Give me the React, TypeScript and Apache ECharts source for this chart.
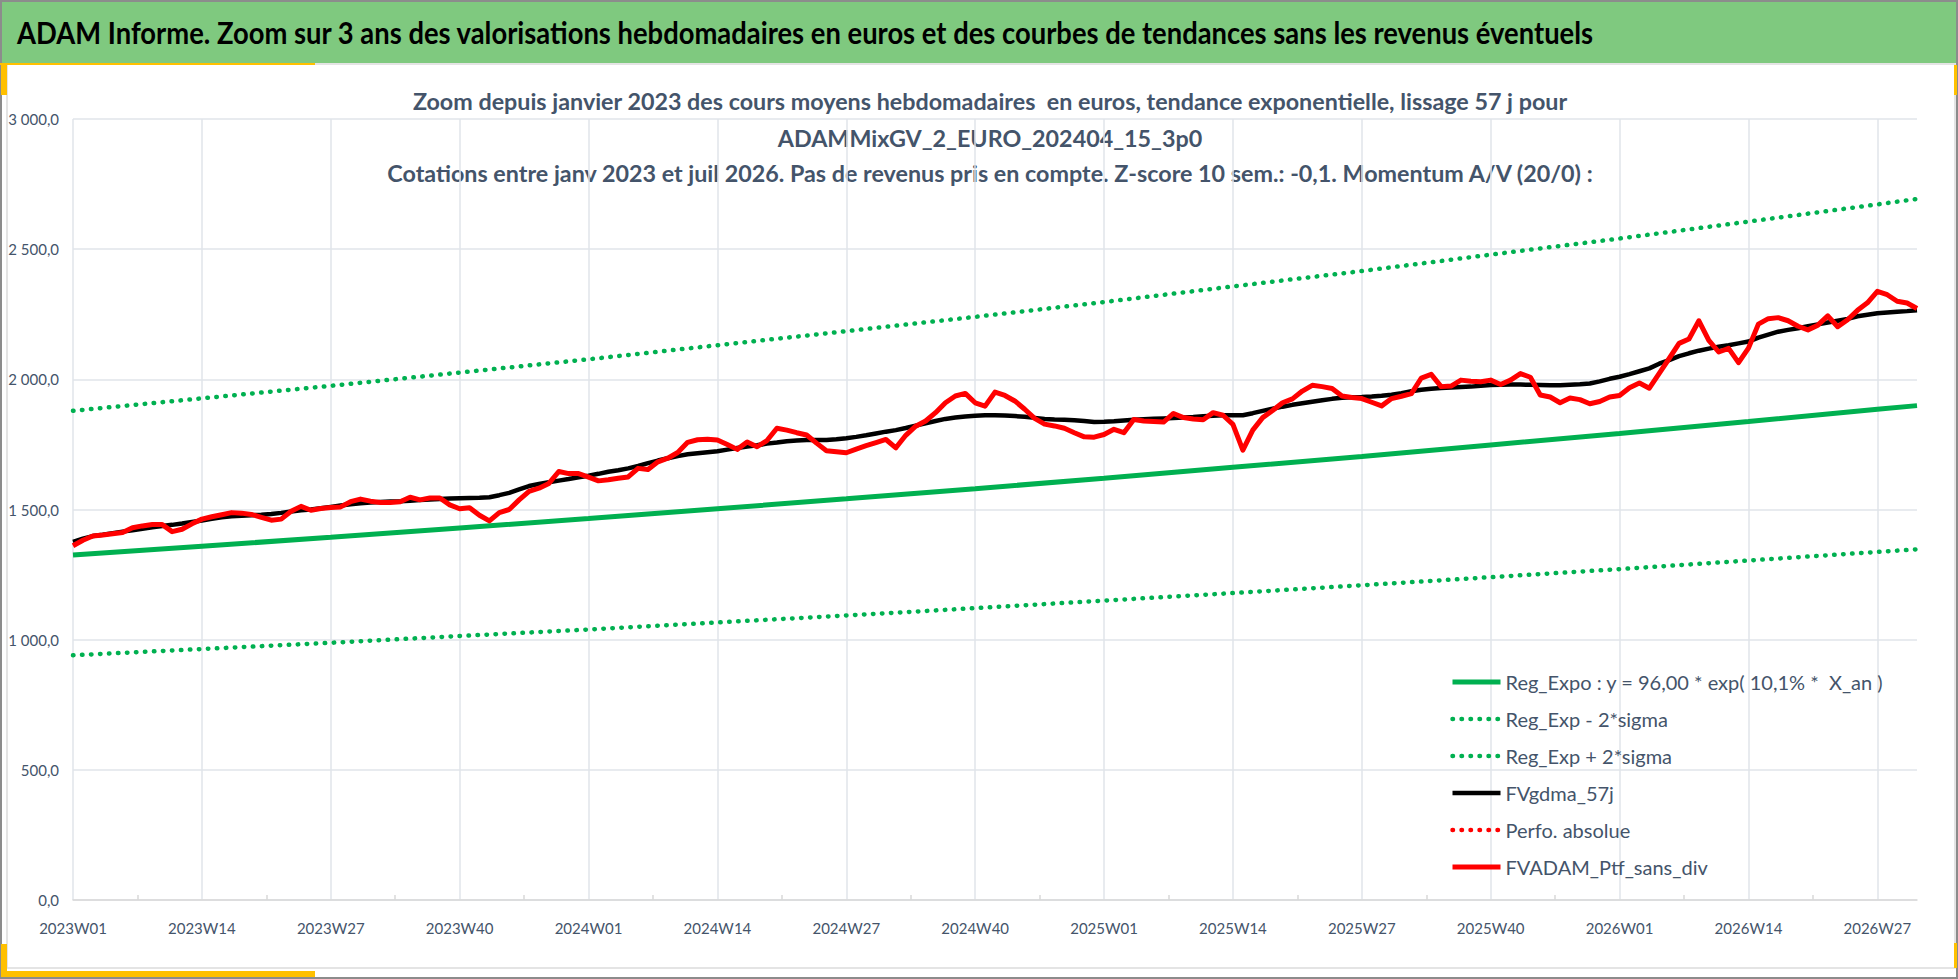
import React, { useEffect, useRef } from 'react';
import * as echarts from 'echarts';

// catégories : semaines ISO de 2023W01 à 2026W31
const years = [2023, 2024, 2025, 2026];
const weeksPerYear = [52, 52, 52, 31];
const weekLabels: string[] = [];
years.forEach((y, k) => {
  for (let w = 1; w <= weeksPerYear[k]; w++) weekLabels.push(`${y}W${String(w).padStart(2, '0')}`);
});
// axe auxiliaire pour les petites graduations entre deux lignes de grille
const midWeeks = weekLabels.slice(1);

// tendances, aux semaines indiquées
const trendIdx = [0, 13, 26, 39, 52, 65, 78, 91, 104, 117, 130, 143, 156, 169, 182, 186];
const regExpo = [1325, 1359, 1393, 1429, 1465, 1503, 1541, 1580, 1620, 1662, 1704, 1748, 1792, 1838, 1885, 1899];
const regLow = [940, 964, 988, 1014, 1039, 1066, 1093, 1121, 1150, 1179, 1209, 1240, 1271, 1304, 1337, 1347];
const regHigh = [1879, 1927, 1975, 2026, 2077, 2131, 2185, 2240, 2297, 2357, 2416, 2479, 2541, 2606, 2672, 2693];

// moyenne mobile 57 j
const fvgdma = [
  1376, 1388, 1398, 1403, 1409, 1415, 1420, 1426, 1432, 1437,
  1441, 1446, 1452, 1458, 1464, 1470, 1474, 1476, 1478, 1480,
  1483, 1487, 1492, 1497, 1500, 1505, 1510, 1515, 1520, 1524,
  1527, 1529, 1531, 1532, 1534, 1536, 1538, 1540, 1542, 1543,
  1544, 1545, 1547, 1555, 1564, 1577, 1590, 1598, 1605, 1611,
  1617, 1624, 1630, 1637, 1645, 1651, 1658, 1667, 1678, 1688,
  1697, 1705, 1712, 1716, 1720, 1724, 1730, 1736, 1742, 1747,
  1753, 1757, 1762, 1765, 1767, 1767, 1767, 1770, 1774, 1779,
  1785, 1792, 1799, 1805, 1813, 1822, 1831, 1840, 1848, 1853,
  1857, 1860, 1862, 1862, 1861, 1859, 1856, 1852, 1848, 1846,
  1845, 1843, 1840, 1836, 1837, 1839, 1842, 1845, 1847, 1849,
  1850, 1851, 1853, 1855, 1858, 1860, 1862, 1862, 1862, 1870,
  1879, 1887, 1895, 1902, 1908, 1914, 1920, 1925, 1929, 1931,
  1932, 1934, 1937, 1941, 1947, 1954, 1960, 1964, 1967, 1969,
  1971, 1972, 1975, 1978, 1979, 1980, 1980, 1979, 1978, 1977,
  1977, 1979, 1981, 1984, 1992, 2002, 2010, 2020, 2031, 2042,
  2060, 2074, 2089, 2100, 2110, 2118, 2125, 2131, 2138, 2145,
  2160, 2172, 2183, 2190, 2196, 2204, 2211, 2218, 2225, 2232,
  2242, 2248, 2254, 2257, 2260, 2262, 2265,
];

const perfoAbsolue: number[] = [];

// valorisation hebdomadaire sans dividendes
const fvadam = [
  1361, 1382, 1398, 1402, 1407, 1412, 1430, 1437, 1442, 1442,
  1415, 1424, 1445, 1463, 1472, 1480, 1488, 1486, 1481, 1470,
  1459, 1463, 1493, 1512, 1497, 1504, 1508, 1510, 1530, 1540,
  1532, 1527, 1527, 1530, 1547, 1537, 1544, 1544, 1518, 1503,
  1507, 1478, 1456, 1488, 1500, 1537, 1570, 1582, 1600, 1646,
  1638, 1638, 1624, 1610, 1614, 1620, 1625, 1658, 1654, 1683,
  1697, 1719, 1758, 1768, 1770, 1767, 1750, 1731, 1759, 1741,
  1765, 1812, 1805, 1795, 1786, 1755, 1726, 1722, 1718, 1732,
  1745, 1757, 1769, 1737, 1785, 1820, 1840, 1872, 1910, 1936,
  1946, 1910, 1897, 1951, 1938, 1917, 1885, 1850, 1828, 1821,
  1812, 1795, 1779, 1778, 1788, 1808, 1795, 1846, 1840, 1838,
  1836, 1869, 1853, 1848, 1845, 1872, 1862, 1827, 1728, 1805,
  1853, 1880, 1910, 1925, 1955, 1977, 1972, 1965, 1936, 1930,
  1926, 1912, 1898, 1926, 1935, 1945, 2005, 2019, 1972, 1974,
  1997, 1993, 1991, 1997, 1980, 1997, 2022, 2008, 1940, 1932,
  1910, 1928, 1922, 1906, 1915, 1932, 1938, 1968, 1986, 1966,
  2023, 2080, 2138, 2155, 2225, 2150, 2105, 2119, 2064, 2120,
  2212, 2233, 2237, 2225, 2204, 2190, 2208, 2244, 2202, 2229,
  2265, 2294, 2338, 2325, 2300, 2293, 2272,
];

const mainTitle =
  'ADAM Informe. Zoom sur 3 ans des valorisations hebdomadaires en euros et des courbes de tendances sans les revenus éventuels';
const subTitles = [
  'Zoom depuis janvier 2023 des cours moyens hebdomadaires  en euros, tendance exponentielle, lissage 57 j pour',
  'ADAMMixGV_2_EURO_202404_15_3p0',
  'Cotations entre janv 2023 et juil 2026. Pas de revenus pris en compte. Z-score 10 sem.: -0,1. Momentum A/V (20/0) :',
];

const GREEN = '#00b050';
const RED = '#ff0000';
const SLATE = '#44546a';
const GOLD = '#ffc000';
const FONT = 'Lato';

const frFormat = (v: number) => {
  const [i, d] = v.toFixed(1).split('.');
  return i.replace(/\B(?=(\d{3})+(?!\d))/g, ' ') + ',' + d;
};

const dotted = { width: 4.5, type: [0.5, 8.5], cap: 'round' };

const App = () => {
  const chartRef = useRef<HTMLDivElement>(null);

  useEffect(() => {
    document.body.style.margin = '0';
    if (!chartRef.current) return;
    const chart = echarts.init(chartRef.current, null, { renderer: 'svg' });

    const rect = (x: number, y: number, w: number, h: number, fill: string) => ({
      type: 'rect',
      silent: true,
      shape: { x, y, width: w, height: h },
      style: { fill },
    });

    const text = (t: string, x: number, y: number, size: number, fill: string, align: string, scaleX = 1) => ({
      type: 'text',
      silent: true,
      x,
      y,
      scaleX,
      style: {
        text: t,
        fill,
        fontSize: size,
        fontWeight: 'bold',
        fontFamily: FONT,
        align,
        textAlign: align,
        verticalAlign: 'middle',
        textVerticalAlign: 'middle',
      },
    });

    const series = [
      {
        name: 'Reg_Expo : y = 96,00 * exp( 10,1% *  X_an )',
        type: 'line',
        symbol: 'none',
        data: regExpo.map((v, k) => [trendIdx[k], v]),
        lineStyle: { color: GREEN, width: 5 },
        itemStyle: { color: GREEN },
      },
      {
        name: 'Reg_Exp - 2*sigma',
        type: 'line',
        symbol: 'none',
        data: regLow.map((v, k) => [trendIdx[k], v]),
        lineStyle: { color: GREEN, ...dotted },
        itemStyle: { color: GREEN },
      },
      {
        name: 'Reg_Exp + 2*sigma',
        type: 'line',
        symbol: 'none',
        data: regHigh.map((v, k) => [trendIdx[k], v]),
        lineStyle: { color: GREEN, ...dotted },
        itemStyle: { color: GREEN },
      },
      {
        name: 'FVgdma_57j',
        type: 'line',
        symbol: 'none',
        data: fvgdma,
        lineStyle: { color: '#000000', width: 4.5, join: 'round' },
        itemStyle: { color: '#000000' },
      },
      {
        name: 'Perfo. absolue',
        type: 'line',
        symbol: 'none',
        data: perfoAbsolue,
        lineStyle: { color: RED, ...dotted },
        itemStyle: { color: RED },
      },
      {
        name: 'FVADAM_Ptf_sans_div',
        type: 'line',
        symbol: 'none',
        data: fvadam,
        lineStyle: { color: RED, width: 5, join: 'round' },
        itemStyle: { color: RED },
      },
    ];

    const options = {
      animation: false,
      backgroundColor: '#ffffff',
      textStyle: { fontFamily: FONT },
      graphic: [
        // bandeau vert
        rect(0, 0, 1958, 63, '#7fc97f'),
        // cadre intérieur
        {
          type: 'rect',
          silent: true,
          shape: { x: 7, y: 64, width: 1948, height: 904 },
          style: { fill: 'none', stroke: '#dcdcdc', lineWidth: 1.5 },
        },
        // cadre extérieur
        {
          type: 'rect',
          silent: true,
          shape: { x: 1, y: 1, width: 1956, height: 977 },
          style: { fill: 'none', stroke: '#8c8c8c', lineWidth: 2 },
        },
        // coins dorés
        rect(0, 63, 315, 2, GOLD),
        rect(1, 64, 6, 31, GOLD),
        rect(1, 944, 6, 33, GOLD),
        rect(1, 971, 314, 6, GOLD),
        rect(1954, 65, 3, 30, GOLD),
        rect(1954, 943, 3, 25, GOLD),
        text(mainTitle, 17, 33, 30, '#000000', 'left', 0.913),
        text(subTitles[0], 990, 101, 23.3, SLATE, 'center'),
        text(subTitles[1], 990, 138, 23.3, SLATE, 'center'),
        text(subTitles[2], 990, 173, 23.3, SLATE, 'center'),
      ],
      grid: { left: 73, top: 119, width: 1844, height: 781 },
      legend: {
        orient: 'vertical',
        left: 1450,
        top: 672,
        padding: 0,
        itemWidth: 48,
        itemHeight: 14,
        itemGap: 17,
        itemStyle: { opacity: 0 },
        textStyle: { color: SLATE, fontSize: 20, lineHeight: 20, fontFamily: FONT },
        data: series.map((s) => ({ name: s.name, lineStyle: { width: s.lineStyle.width } })),
      },
      xAxis: [
        {
          type: 'category',
          data: weekLabels,
          boundaryGap: false,
          axisLine: { lineStyle: { color: '#d9d9d9', width: 1.5 } },
          axisTick: { show: false },
          axisLabel: { interval: 12, color: SLATE, fontSize: 15, margin: 20, fontFamily: FONT },
          splitLine: { show: true, interval: 12, lineStyle: { color: '#e1e4ea', width: 1.5 } },
        },
        {
          type: 'category',
          data: midWeeks,
          boundaryGap: true,
          position: 'bottom',
          axisLine: { show: false },
          axisLabel: { show: false },
          splitLine: { show: false },
          axisTick: {
            show: true,
            alignWithLabel: true,
            inside: true,
            length: 5,
            interval: (i: number) => i % 13 === 6,
            lineStyle: { color: '#d9d9d9', width: 1.5 },
          },
        },
      ],
      yAxis: {
        type: 'value',
        min: 0,
        max: 3000,
        interval: 500,
        axisLine: { show: false },
        axisTick: { show: false },
        axisLabel: { color: SLATE, fontSize: 15, margin: 14, formatter: frFormat, fontFamily: FONT },
        splitLine: { lineStyle: { color: '#e1e4ea', width: 1.5 } },
      },
      series,
    };

    chart.setOption(options as any);

    return () => {
      chart.dispose();
    };
  }, []);

  return <div ref={chartRef} style={{ width: '1958px', height: '979px', background: '#fff' }} />;
};

export default App;
